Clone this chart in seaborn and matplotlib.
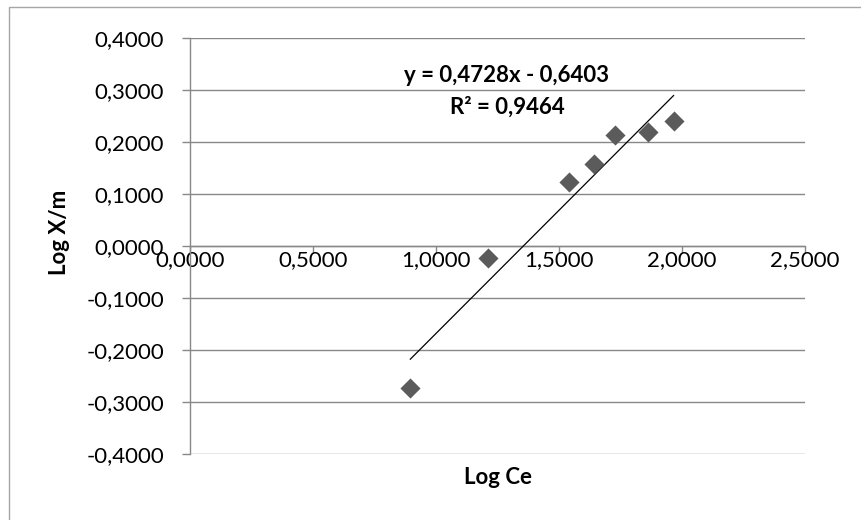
import numpy as np
import pandas as pd
import matplotlib
matplotlib.use("Agg")
import matplotlib.pyplot as plt
from matplotlib.ticker import FuncFormatter, MultipleLocator
from matplotlib.patches import Rectangle
import seaborn as sns

# ---- data ----
log_ce = [0.894, 1.209, 1.540, 1.642, 1.729, 1.862, 1.966]
log_xm = [-0.272, -0.024, 0.123, 0.157, 0.214, 0.219, 0.240]
slope = 0.4728
intercept = -0.6403
r_squared = 0.9464
x_label = "Log Ce"
y_label = "Log X/m"

sns.set_theme(style="white")
plt.rcParams['font.family'] = ['Lato', 'DejaVu Sans']

FS = 16

fig = plt.figure(figsize=(8.62, 5.2), dpi=100)
ax = fig.add_axes([190.4/862, 1-454.3/520, (805-190.4)/862, (454.3-37.7)/520])

df = pd.DataFrame({"x": log_ce, "y": log_xm})
sns.scatterplot(data=df, x="x", y="y", marker="D", s=105, color="#5b5b5b",
                linewidth=0, ax=ax, zorder=4)

xs = np.array([min(log_ce), max(log_ce)])
ax.plot(xs, slope*xs + intercept, color="black", lw=0.9, zorder=3)

ax.set_xlim(0, 2.5)
ax.set_ylim(-0.4, 0.4)
ax.xaxis.set_major_locator(MultipleLocator(0.5))
ax.yaxis.set_major_locator(MultipleLocator(0.1))
fmt = FuncFormatter(lambda v, p: f"{v:.4f}".replace(".", ","))
ax.xaxis.set_major_formatter(fmt)
ax.yaxis.set_major_formatter(fmt)

grid_c = "#888888"
ax.grid(axis="y", color=grid_c, lw=1.0)
ax.grid(axis="x", visible=False)
ax.set_axisbelow(True)

for s in ["top", "right"]:
    ax.spines[s].set_visible(False)
ax.spines["left"].set_color(grid_c)
ax.spines["left"].set_linewidth(1.0)
ax.spines["bottom"].set_position(("data", 0))
ax.spines["bottom"].set_color(grid_c)
ax.spines["bottom"].set_linewidth(1.0)

ax.tick_params(axis="y", direction="out", length=6, width=1.0, color=grid_c,
               pad=13, labelsize=FS, labelcolor="black", left=True)
ax.tick_params(axis="x", direction="out", length=5, width=1.0, color=grid_c,
               pad=-2, labelsize=FS, labelcolor="black", bottom=True)

ax.set_xlabel(x_label, fontsize=FS, fontweight="bold", color="black")
ax.set_ylabel(y_label, fontsize=FS, fontweight="bold", color="black")
ax.xaxis.set_label_coords(0.5, (454.3-478)/(454.3-37.7), transform=ax.transAxes)
ax.yaxis.set_label_coords((60-190.4)/(805-190.4), (454.3-232)/(454.3-37.7))
ax.xaxis.label.set_va("center")
ax.yaxis.label.set_va("center")

eq = f"y = {slope:.4f}x - {abs(intercept):.4f}".replace(".", ",")
r2 = f"R² = {r_squared:.4f}".replace(".", ",")
ax.text(1.284, 0.3277, eq, ha="center", va="center", fontsize=FS,
        fontweight="bold", color="black", zorder=5)
ax.text(1.288, 0.2662, r2, ha="center", va="center", fontsize=FS,
        fontweight="bold", color="black", zorder=5)

fig.patches.append(Rectangle((9/862, -0.1), 1.2, 1.1 - 7.5/520,
                             transform=fig.transFigure, fill=False,
                             edgecolor="#a6a6a6", lw=1.0))

fig.savefig("out.png", dpi=100)
